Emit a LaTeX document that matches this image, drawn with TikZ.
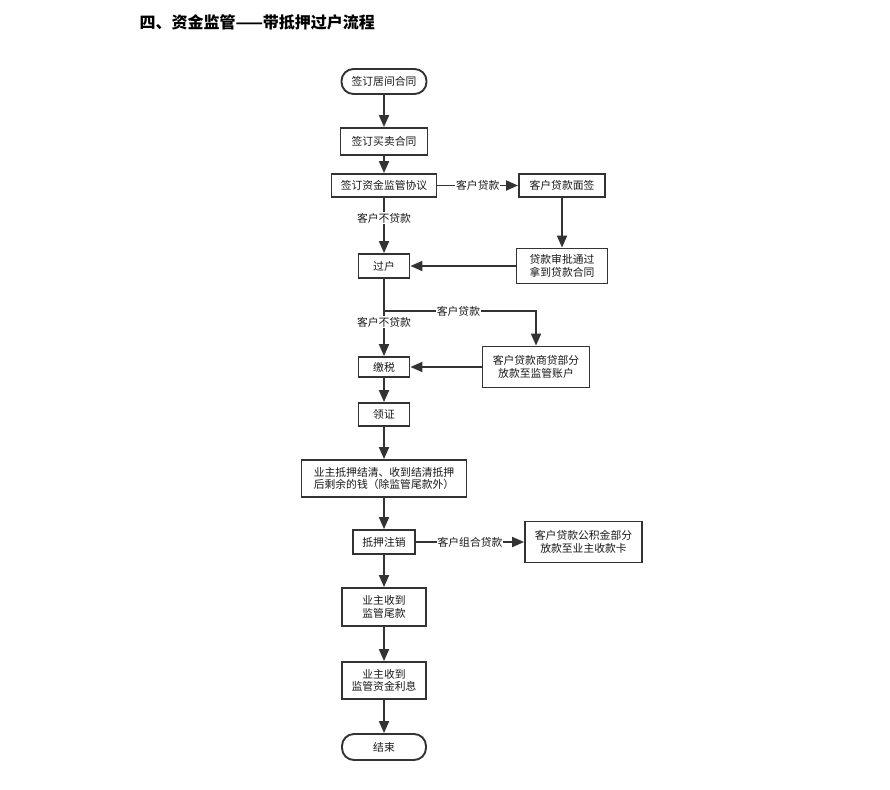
\documentclass[tikz,border=0pt]{standalone}
\usepackage{fontspec}
\setmainfont{Noto Sans CJK SC}
\usetikzlibrary{arrows.meta}

\begin{document}
\begin{tikzpicture}[x=1pt,y=-1pt,
    every node/.style={font=\fontsize{10.8}{12.5}\selectfont, text=black!90},
    box/.style={draw=black!80, line width=1.9pt, inner sep=0pt, align=center},
    term/.style={box, rounded corners=12pt},
    flow/.style={draw=black!80, line width=1.9pt, -{Triangle[length=12pt,width=10pt]}},
    cond/.style={fill=white, inner sep=1pt}]
    \useasboundingbox[fill=white] (0,0) rectangle (890,789);
    \node[anchor=west, text=black, font=\fontsize{16}{18}\selectfont\bfseries] (title) at (136,22) {四、资金监管——带抵押过户流程};

    \node[term, minimum width=85pt, minimum height=25pt] (start) at (384,81.5) {签订居间合同};
    \node[box, minimum width=87pt, minimum height=27pt] (maimai) at (384,141.5) {签订买卖合同};
    \node[box, minimum width=105pt, minimum height=23pt] (xieyi) at (384,185.5) {签订资金监管协议};
    \node[box, minimum width=86pt, minimum height=23pt] (mianqian) at (562,185.5) {客户贷款面签};
    \node[box, minimum width=91pt, minimum height=35pt] (shenpi) at (562,266) {贷款审批通过\\拿到贷款合同};
    \node[box, minimum width=51pt, minimum height=24pt] (guohu) at (384,266) {过户};
    \node[box, minimum width=107pt, minimum height=41pt] (shangdai) at (536,367) {客户贷款商贷部分\\放款至监管账户};
    \node[box, minimum width=51pt, minimum height=20pt] (jiaoshui) at (384,367) {缴税};
    \node[box, minimum width=51pt, minimum height=23pt] (lingzheng) at (384,414.5) {领证};
    \node[box, minimum width=165pt, minimum height=37pt] (jieqing) at (384,478.5) {业主抵押结清、收到结清抵押\\后剩余的钱（除监管尾款外）};
    \node[box, minimum width=62pt, minimum height=24pt] (zhuxiao) at (384,542) {抵押注销};
    \node[box, minimum width=117pt, minimum height=41pt] (gongjijin) at (583.5,542) {客户贷款公积金部分\\放款至业主收款卡};
    \node[box, minimum width=84pt, minimum height=38pt] (weikuan) at (384,607) {业主收到\\监管尾款};
    \node[box, minimum width=84pt, minimum height=37pt] (lixi) at (384,680.5) {业主收到\\监管资金利息};
    \node[term, minimum width=84pt, minimum height=26pt] (end) at (384,747) {结束};
    \coordinate (fork) at (384,311);

    \draw[flow] (start) -- (maimai);
    \draw[flow] (maimai) -- (xieyi);
    \draw[flow] (xieyi) -- node[cond] {客户贷款} (mianqian);
    \draw[flow] (mianqian) -- (shenpi);
    \draw[flow] (shenpi) -- (guohu);
    \draw[flow] (xieyi) -- node[cond, pos=0.37] {客户不贷款} (guohu);
    \draw[flow] (guohu) -- node[cond, pos=0.56] {客户不贷款} (jiaoshui);
    \draw[flow] (fork) -| node[cond, pos=0.245] {客户贷款} (shangdai.north);
    \draw[flow] (shangdai) -- (jiaoshui);
    \draw[flow] (jiaoshui) -- (lingzheng);
    \draw[flow] (lingzheng) -- (jieqing);
    \draw[flow] (jieqing) -- (zhuxiao);
    \draw[flow] (zhuxiao) -- node[cond] {客户组合贷款} (gongjijin);
    \draw[flow] (zhuxiao) -- (weikuan);
    \draw[flow] (weikuan) -- (lixi);
    \draw[flow] (lixi) -- (end);
\end{tikzpicture}
\end{document}
